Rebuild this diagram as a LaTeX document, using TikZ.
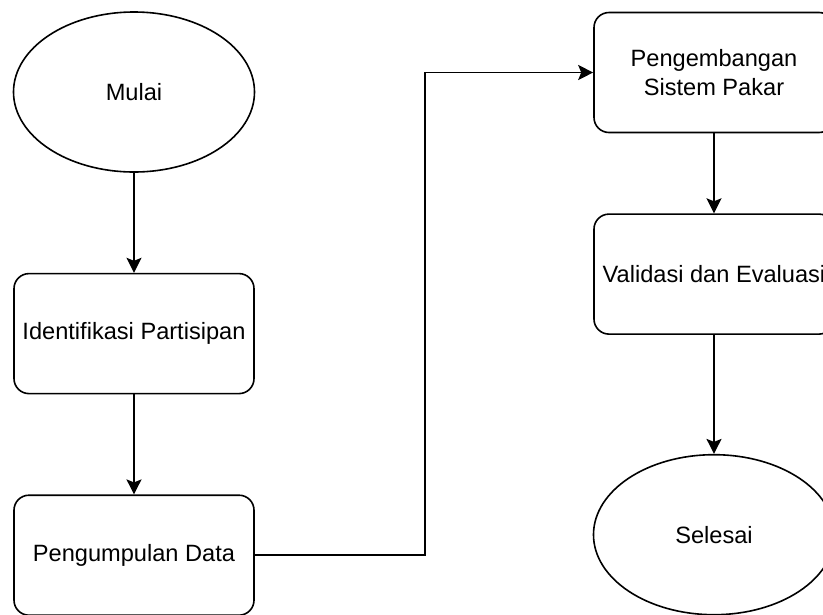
\documentclass[tikz,border=0pt]{standalone}
\usepackage{fontspec}
\setmainfont{Liberation Sans}
\usetikzlibrary{positioning,shapes.geometric,arrows.meta}

\begin{document}
\begin{tikzpicture}[x=1pt,y=1pt,
		font=\fontsize{23.6}{29}\selectfont,
		proses/.style={draw,line width=1.6pt,rounded corners=15pt,minimum width=240pt,minimum height=120pt,align=center,inner sep=0pt},
		terminal/.style={draw,ellipse,line width=1.6pt,minimum width=241pt,minimum height=160pt,inner sep=0pt},
		panah/.style={line width=1.6pt,-{Stealth[length=15pt,width=15pt,inset=3pt]}}]
			\useasboundingbox (0,0) rectangle (823,-614);
			
			\node[terminal] (mulai) at (134,-92) {Mulai};
			\node[proses,below=100pt of mulai] (identifikasi) {Identifikasi Partisipan};
			\node[proses,below=100pt of identifikasi] (kumpul) {Pengumpulan Data};
			\node[proses] (kembang) at (714,-72.5) {Pengembangan\\Sistem Pakar};
			\node[proses,below=80pt of kembang] (validasi) {Validasi dan Evaluasi};
			\node[terminal,below=119pt of validasi] (selesai) {Selesai};
			
			\draw[panah] (mulai) -- (identifikasi);
			\draw[panah] (identifikasi) -- (kumpul);
			\draw[panah] (kumpul.east) -- ++(170pt,0) |- (kembang.west);
			\draw[panah] (kembang) -- (validasi);
			\draw[panah] (validasi) -- (selesai);
			%\draw (0,0) rectangle (823,-614);
\end{tikzpicture}
\end{document}
